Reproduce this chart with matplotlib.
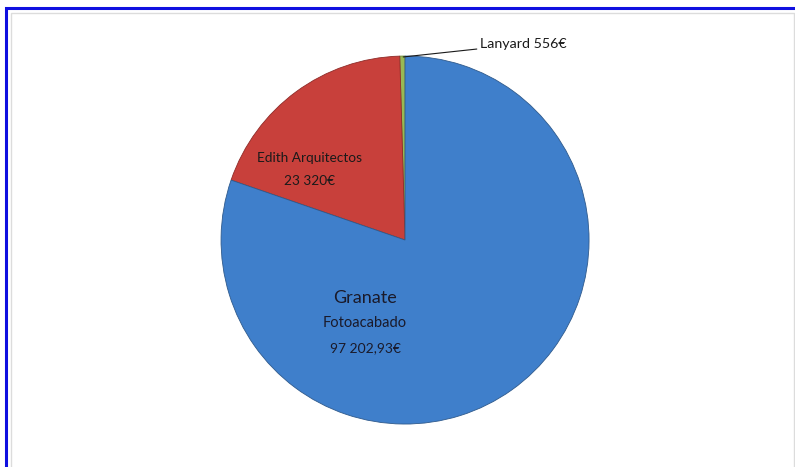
import matplotlib.pyplot as plt
from matplotlib.patches import Rectangle

# datos del gráfico
clientes = ['Lanyard', 'Edith Arquitectos', 'Granate Fotoacabado']
importes = [556, 23320, 97202.93]
lineas_lanyard = ['Lanyard 556€']
lineas_edith = ['Edith Arquitectos', '23 320€']
lineas_granate = ['Granate', 'Fotoacabado', '97 202,93€']
colores = ['#98B954', '#C8403B', '#3F7FCB']

plt.rcParams['font.family'] = ['Lato', 'DejaVu Sans']

fig = plt.figure(figsize=(7.95, 4.67), dpi=100)

# marco azul y borde gris claro
fig.add_artist(Rectangle((0.0075, -0.1), 1.2, 1.083, transform=fig.transFigure,
                         fill=False, edgecolor='#1010E0', linewidth=2.2))
fig.add_artist(Rectangle((0.0135, -0.1), 0.985, 1.072, transform=fig.transFigure,
                         fill=False, edgecolor='#DCDCDC', linewidth=1.0))

ax = fig.add_axes([0.278, 0.092, 0.463, 0.788])
wedges, _ = ax.pie(importes, colors=colores, startangle=90, counterclock=True,
                   radius=1.0,
                   wedgeprops=dict(edgecolor='#2F5A8C', linewidth=0.6))
wedges[1].set_edgecolor('#8E2B28')
wedges[0].set_edgecolor('#6E8A3A')
ax.set_xlim(-1, 1)
ax.set_ylim(-1, 1)
ax.set_aspect('equal')
ax.axis('off')

# etiquetas
ax.annotate(lineas_lanyard[0], xy=(-0.01, 0.995), xytext=(0.405, 1.065),
            fontsize=10.3, color='#1a1a1a', ha='left', va='center',
            arrowprops=dict(arrowstyle='-', color='#1a1a1a', lw=0.8,
                            shrinkA=0, shrinkB=0),
            annotation_clip=False)

for texto, y in zip(lineas_edith, [0.446, 0.32]):
    ax.text(-0.52, y, texto, fontsize=9.8, color='#1a1a1a',
            ha='center', va='center')

for texto, y, tam in zip(lineas_granate, [-0.315, -0.451, -0.587], [13, 10.5, 10]):
    ax.text(-0.217, y, texto, fontsize=tam, color='#1a1a2a',
            ha='center', va='center')

fig.savefig('out.png', dpi=100)
